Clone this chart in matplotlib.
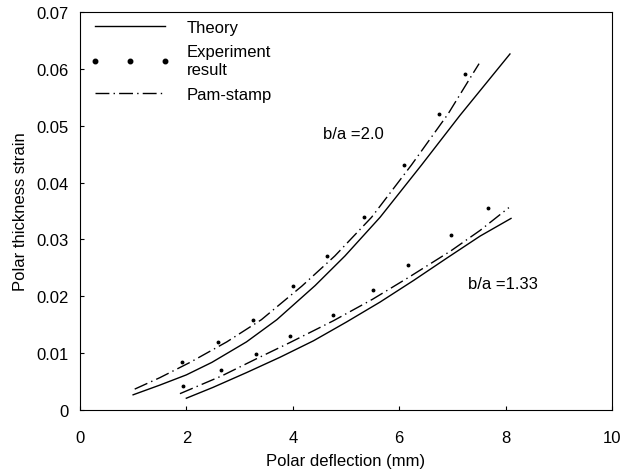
import numpy as np
import matplotlib.pyplot as plt

plt.rcParams['font.family'] = ['Liberation Sans', 'DejaVu Sans']

# b/a = 2.0
theory_x_20 = [1.0, 1.5, 2.0, 2.48, 3.13, 3.7, 4.42, 4.98, 5.64, 6.42, 7.14, 8.08]
theory_y_20 = [0.0027, 0.0044, 0.0062, 0.0084, 0.0120, 0.0159, 0.0219, 0.0271, 0.0339,
               0.0431, 0.0518, 0.0626]
pam_x_20 = [1.03, 1.5, 2.07, 2.76, 3.41, 4.17, 4.79, 5.48, 6.23, 6.92, 7.36, 7.5]
pam_y_20 = [0.0037, 0.0057, 0.0084, 0.0120, 0.0159, 0.0218, 0.0271, 0.0339, 0.0431,
            0.0521, 0.0588, 0.0609]
exp_x_20 = [1.91, 2.6, 3.25, 4.0, 4.65, 5.34, 6.09, 6.75, 7.24]
exp_y_20 = [0.0084, 0.0120, 0.0159, 0.0218, 0.0271, 0.0339, 0.0431, 0.0521, 0.0591]

# b/a = 1.33
theory_x_133 = [2.0, 2.5, 3.13, 3.76, 4.39, 5.01, 5.64, 6.27, 6.89, 7.52, 8.1]
theory_y_133 = [0.0021, 0.0040, 0.0066, 0.0093, 0.0122, 0.0155, 0.0190, 0.0228, 0.0267,
                0.0306, 0.0337]
pam_x_133 = [1.88, 2.66, 3.31, 3.95, 4.76, 5.5, 6.17, 6.97, 7.52, 8.06]
pam_y_133 = [0.0029, 0.0060, 0.0090, 0.0119, 0.0157, 0.0195, 0.0233, 0.0280, 0.0316,
             0.0356]
exp_x_133 = [1.94, 2.66, 3.31, 3.95, 4.76, 5.5, 6.17, 6.97, 7.66]
exp_y_133 = [0.0042, 0.0071, 0.0099, 0.0130, 0.0167, 0.0211, 0.0256, 0.0307, 0.0355]

dashdot = (0, (10, 3, 1, 3))

fig = plt.figure(figsize=(6.24, 4.77), dpi=100)
ax = fig.add_axes([0.128, 0.138, 0.853, 0.835])

ax.plot(theory_x_20, theory_y_20, color='black', lw=1.0, label='Theory')
ax.plot(exp_x_20, exp_y_20, ls='none', marker='o', ms=1.8, color='black',
        label='Experiment\nresult')
ax.plot(pam_x_20, pam_y_20, color='black', lw=1.0, ls=dashdot, label='Pam-stamp')

ax.plot(theory_x_133, theory_y_133, color='black', lw=1.0)
ax.plot(exp_x_133, exp_y_133, ls='none', marker='o', ms=1.8, color='black')
ax.plot(pam_x_133, pam_y_133, color='black', lw=1.0, ls=dashdot)

ax.text(4.57, 0.0487, 'b/a =2.0', fontsize=12, va='center')
ax.text(7.29, 0.0222, 'b/a =1.33', fontsize=12, va='center')

ax.set_xlim(0, 10)
ax.set_ylim(0, 0.07)
ax.set_xticks([0, 2, 4, 6, 8, 10])
ax.set_yticks([0, 0.01, 0.02, 0.03, 0.04, 0.05, 0.06, 0.07])
ax.set_yticklabels(['0', '0.01', '0.02', '0.03', '0.04', '0.05', '0.06', '0.07'])
ax.tick_params(direction='in', length=3, labelsize=12)
ax.tick_params(axis='y', pad=8)
ax.tick_params(axis='x', pad=14)
ax.set_xlabel('Polar deflection (mm)', fontsize=12, labelpad=6)
ax.set_ylabel('Polar thickness strain', fontsize=12, labelpad=6)

leg = ax.legend(loc='upper left', bbox_to_anchor=(-0.009, 1.018), frameon=False,
                fontsize=12, handlelength=4.8, handletextpad=1.0, numpoints=3,
                markerscale=1.8, labelspacing=0.55)
leg.get_texts()[1].set_linespacing(1.3)

fig.savefig('out.png', dpi=100)
